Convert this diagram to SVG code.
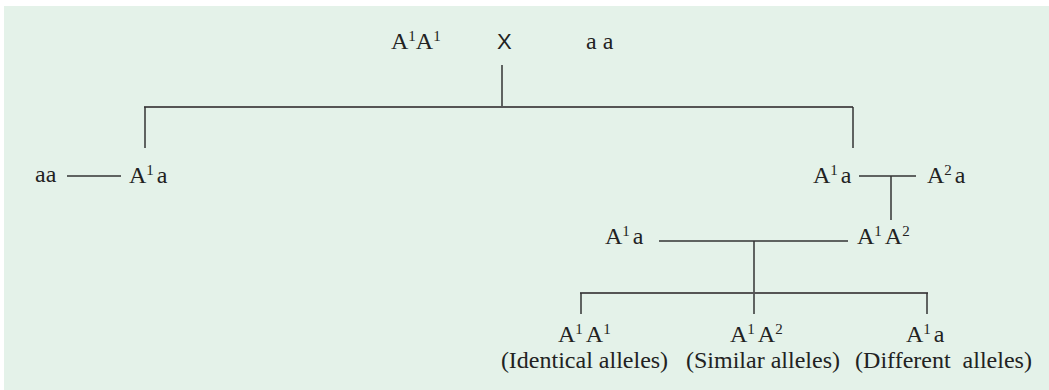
<svg xmlns="http://www.w3.org/2000/svg" width="1049" height="390" viewBox="0 0 1049 390">
<style>
.t{font-family:"Liberation Serif","Times New Roman",serif;font-size:24px;fill:#222}
.x{font-family:"Liberation Sans",Arial,sans-serif;font-size:22px;fill:#222}
.s{font-size:15px}
.ln{stroke:#333;stroke-width:1.5;fill:none}
.bar{stroke:#555;stroke-width:2.2;fill:none}
</style>
<rect x="0" y="0" width="1049" height="390" fill="#ffffff"/>
<rect x="4" y="6" width="1045" height="384" fill="#e4f2e9"/>
<g id="connectors">
<line class="ln" x1="502" y1="65" x2="502" y2="107"/>
<line class="bar" x1="144" y1="107" x2="853" y2="107"/>
<line class="ln" x1="145" y1="107" x2="145" y2="148"/>
<line class="ln" x1="853" y1="107" x2="853" y2="148"/>
<line class="ln" x1="67" y1="176" x2="121" y2="176"/>
<line class="ln" x1="859" y1="176" x2="916" y2="176"/>
<line class="ln" x1="891" y1="176" x2="891" y2="220"/>
<line class="ln" x1="659" y1="241" x2="848" y2="241"/>
<line class="ln" x1="754" y1="241" x2="754" y2="314"/>
<line class="bar" x1="580" y1="293" x2="928" y2="293"/>
<line class="ln" x1="581" y1="293" x2="581" y2="314"/>
<line class="ln" x1="927" y1="293" x2="927" y2="314"/>
</g>
<g id="parent1"><text class="t" x="391" y="49">A<tspan class="s" dy="-8">1</tspan><tspan dy="8">A</tspan><tspan class="s" dy="-8">1</tspan></text></g>
<g id="cross"><text class="x" x="497" y="49">X</text></g>
<g id="parent2"><text class="t" x="586" y="49">a a</text></g>
<g id="aa-left"><text class="t" x="35" y="182">aa</text></g>
<g id="f1-left"><text class="t" x="129" y="183">A<tspan class="s" dy="-8">1</tspan><tspan dx="3" dy="8">a</tspan></text></g>
<g id="f1-right"><text class="t" x="813" y="183">A<tspan class="s" dy="-8">1</tspan><tspan dx="3" dy="8">a</tspan></text></g>
<g id="a2a"><text class="t" x="927" y="183">A<tspan class="s" dy="-8">2</tspan><tspan dx="3" dy="8">a</tspan></text></g>
<g id="a1a2-mid"><text class="t" x="857" y="244">A<tspan class="s" dy="-8">1</tspan><tspan dx="3" dy="8">A</tspan><tspan class="s" dy="-8">2</tspan></text></g>
<g id="a1a-mid"><text class="t" x="605" y="244">A<tspan class="s" dy="-8">1</tspan><tspan dx="3" dy="8">a</tspan></text></g>
<g id="child1"><text class="t" x="558" y="342">A<tspan class="s" dy="-8">1</tspan><tspan dx="3" dy="8">A</tspan><tspan class="s" dy="-8">1</tspan></text><text class="t" x="584.5" y="368" text-anchor="middle">(Identical alleles)</text></g>
<g id="child2"><text class="t" x="763" y="368" text-anchor="middle">(Similar alleles)</text><text class="t" x="730" y="342">A<tspan class="s" dy="-8">1</tspan><tspan dx="3" dy="8">A</tspan><tspan class="s" dy="-8">2</tspan></text></g>
<g id="child3"><text class="t" x="906" y="342">A<tspan class="s" dy="-8">1</tspan><tspan dx="3" dy="8">a</tspan></text><text class="t" x="943.5" y="368" text-anchor="middle" xml:space="preserve">(Different  alleles)</text></g>
</svg>
